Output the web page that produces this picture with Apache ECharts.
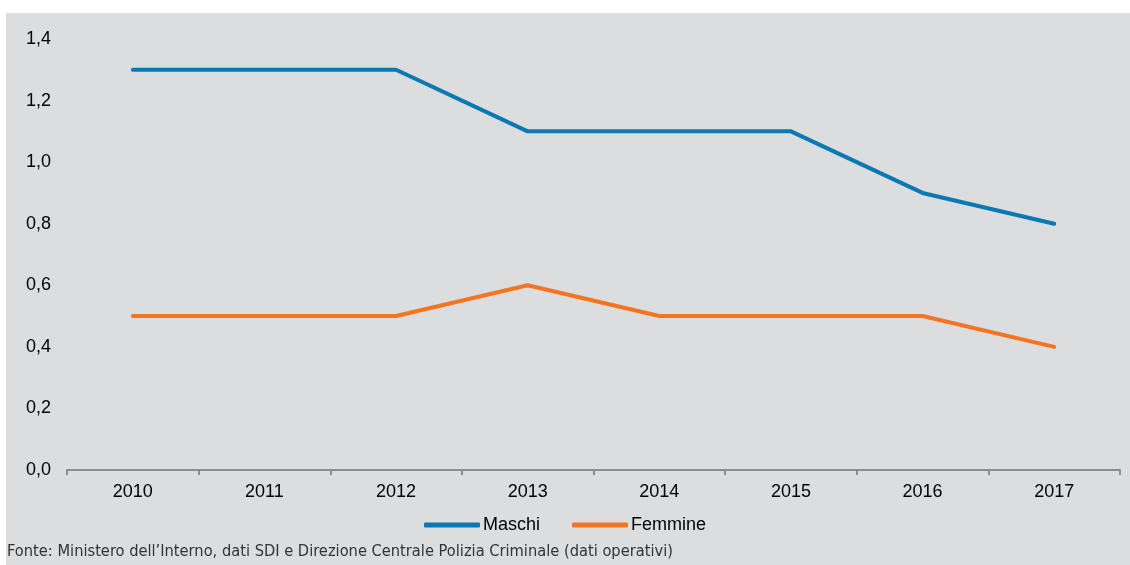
<!DOCTYPE html>
<html>
<head>
<meta charset="utf-8">
<script src="https://cdn.jsdelivr.net/npm/echarts@6/dist/echarts.min.js"></script>
<style>
  html, body { margin: 0; padding: 0; background: #ffffff; }
  #chart { width: 1130px; height: 565px; }
</style>
</head>
<body>
<div id="chart"></div>
<script>
// dati
const anni = ['2010', '2011', '2012', '2013', '2014', '2015', '2016', '2017'];
const maschi = [1.3, 1.3, 1.3, 1.1, 1.1, 1.1, 0.9, 0.8];
const femmine = [0.5, 0.5, 0.5, 0.6, 0.5, 0.5, 0.5, 0.4];
const fonte = 'Fonte: Ministero dell\u2019Interno, dati SDI e Direzione Centrale Polizia Criminale (dati operativi)';

const myChart = echarts.init(document.getElementById('chart'));
const font = '"Liberation Sans", Arial, sans-serif';

const option = {
  animation: false,
  backgroundColor: '#ffffff',
  graphic: [
    {
      type: 'rect',
      z: -10,
      shape: { x: 6, y: 13, width: 1124, height: 552 },
      style: { fill: '#dcdddf' },
    },
    {
      type: 'text',
      left: 7,
      top: 544,
      style: {
        text: fonte,
        fill: '#333333',
        font: '16.3px "Liberation Sans Narrow", "DejaVu Sans Condensed", sans-serif',
      },
    },
  ],
  grid: { left: 67, right: 10, top: 39, bottom: 95 },
  legend: {
    top: 511,
    left: 'center',
    itemWidth: 56,
    itemHeight: 5,
    itemGap: 32,
    textStyle: { color: '#000', fontSize: 18, fontFamily: font, padding: [0, 0, 0, -2] },
    data: [
      { name: 'Maschi', icon: 'roundRect' },
      { name: 'Femmine', icon: 'roundRect' },
    ],
  },
  xAxis: {
    type: 'category',
    data: anni,
    boundaryGap: true,
    axisLine: { lineStyle: { color: '#8c8c8c', width: 2 } },
    axisTick: { show: true, length: 5, lineStyle: { color: '#8c8c8c', width: 2 } },
    axisLabel: { color: '#000', fontSize: 18, fontFamily: font, margin: 13 },
  },
  yAxis: {
    type: 'value',
    min: 0,
    max: 1.4,
    interval: 0.2,
    axisLine: { show: false },
    axisTick: { show: false },
    splitLine: { show: false },
    axisLabel: {
      color: '#000',
      fontSize: 18,
      fontFamily: font,
      margin: 16,
      formatter: (v) => v.toFixed(1).replace('.', ','),
    },
  },
  series: [
    {
      name: 'Maschi',
      type: 'line',
      data: maschi,
      symbol: 'none',
      itemStyle: { color: '#0a78b2' },
      lineStyle: { color: '#0a78b2', width: 4, cap: 'round' },
    },
    {
      name: 'Femmine',
      type: 'line',
      data: femmine,
      symbol: 'none',
      itemStyle: { color: '#f47521' },
      lineStyle: { color: '#f47521', width: 4, cap: 'round' },
    },
  ],
};

option && myChart.setOption(option);
</script>
</body>
</html>
